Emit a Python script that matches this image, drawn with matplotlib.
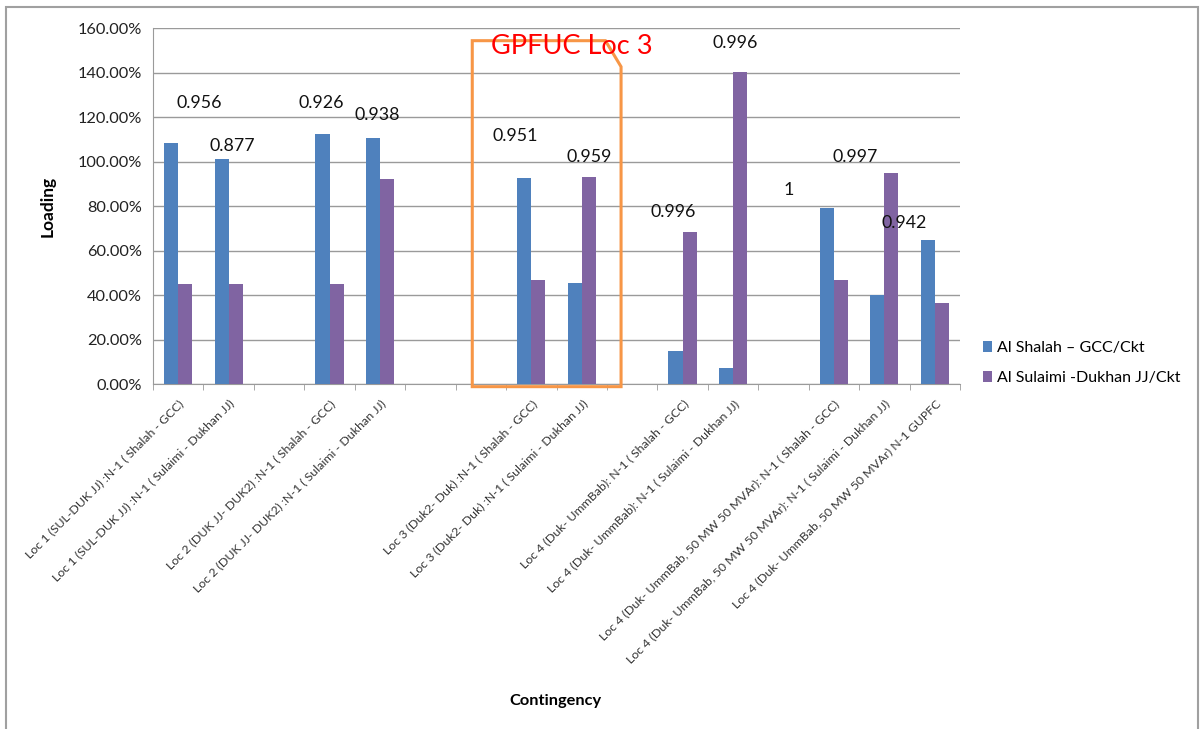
import numpy as np
import matplotlib
matplotlib.use("Agg")
import matplotlib.pyplot as plt
from matplotlib.patches import Rectangle, Polygon
from matplotlib.ticker import FuncFormatter, MultipleLocator

plt.rcParams['font.family'] = ['Lato', 'DejaVu Sans']

# ---------------- data ----------------
categories = [
    "Loc 1 (SUL-DUK JJ) :N-1 ( Shalah - GCC)",
    "Loc 1 (SUL-DUK JJ) :N-1 ( Sulaimi - Dukhan JJ)",
    "",
    "Loc 2 (DUK JJ- DUK2) :N-1 ( Shalah - GCC)",
    "Loc 2 (DUK JJ- DUK2) :N-1 ( Sulaimi - Dukhan JJ)",
    "",
    "",
    "Loc 3 (Duk2- Duk) :N-1 ( Shalah - GCC)",
    "Loc 3 (Duk2- Duk) :N-1 ( Sulaimi - Dukhan JJ)",
    "",
    "Loc 4 (Duk- UmmBab): N-1 ( Shalah - GCC)",
    "Loc 4 (Duk- UmmBab): N-1 ( Sulaimi - Dukhan JJ)",
    "",
    "Loc 4 (Duk- UmmBab, 50 MW 50 MVAr): N-1 ( Shalah - GCC)",
    "Loc 4 (Duk- UmmBab, 50 MW 50 MVAr): N-1 ( Sulaimi - Dukhan JJ)",
    "Loc 4 (Duk- UmmBab, 50 MW 50 MVAr) N-1 GUPFC",
]
shalah = [108.4, 101.1, np.nan, 112.4, 110.7, np.nan, np.nan, 92.4, 45.5,
          np.nan, 15.0, 7.0, np.nan, 79.0, 40.0, 64.7]
sulaimi = [44.8, 44.8, np.nan, 44.8, 92.0, np.nan, np.nan, 46.6, 92.9,
           np.nan, 68.2, 140.4, np.nan, 46.7, 95.0, 36.3]
series_names = ["Al Shalah \u2013 GCC/Ckt", "Al Sulaimi -Dukhan JJ/Ckt"]

# voltage annotations (value text) and where they are drawn (x in category units, y in %)
annot_text = ["0.956", "0.877", "0.926", "0.938", "0.951", "0.959",
              "0.996", "0.996", "1", "0.997", "0.942"]
annot_x = [0.42, 1.07, 2.84, 3.95, 6.69, 8.14, 9.82, 11.05, 12.1, 13.43, 14.39]
annot_y = [126.3, 107.0, 126.3, 120.9, 111.5, 102.0, 77.4, 153.1, 87.2, 102.0, 72.5]

highlight_label = "GPFUC Loc 3"

# ---------------- figure ----------------
W, H = 1203, 729
fig = plt.figure(figsize=(W / 100, H / 100), dpi=100)
fig.patch.set_facecolor("white")

# outer chart border
fig.patches.append(Rectangle((6 / W, -0.02), (1198 - 6) / W, 1 - 7 / H + 0.02,
                             transform=fig.transFigure, fill=False,
                             edgecolor="#a0a0a0", linewidth=1.5))

ax = fig.add_axes([153 / W, 1 - 384 / H, (960 - 153) / W, (384 - 28) / H])

x = np.arange(len(categories))
bw = 0.28
blue = "#4F81BD"
purple = "#8064A2"
ax.bar(x - bw / 2, shalah, width=bw, color=blue, label=series_names[0], zorder=3)
ax.bar(x + bw / 2, sulaimi, width=bw, color=purple, label=series_names[1], zorder=3)

ax.set_xlim(-0.5, len(categories) - 0.5)
ax.set_ylim(0, 160)
ax.yaxis.set_major_locator(MultipleLocator(20))
ax.yaxis.set_major_formatter(FuncFormatter(lambda v, p: f"{v:.2f}%"))
ax.grid(axis="y", color="#9a9a9a", linewidth=1.0, zorder=0)
ax.set_axisbelow(True)

for s in ["top", "right"]:
    ax.spines[s].set_visible(False)
ax.spines["left"].set_color("#9a9a9a")
ax.spines["bottom"].set_color("#9a9a9a")

ax.tick_params(axis="y", length=0, labelsize=11.8, pad=8, labelcolor="#222222")
ax.set_xticks(x)
ax.set_xticklabels(categories, rotation=45, ha="right", rotation_mode="anchor",
                   fontsize=8.9, color="#333333")
ax.tick_params(axis="x", which="major", length=0, pad=10)
ax.set_xticks(np.arange(-0.5, len(categories) + 0.5, 1), minor=True)
ax.tick_params(axis="x", which="minor", length=4, color="#9a9a9a")

ax.set_ylabel("Loading", fontsize=12.5, fontweight="bold", labelpad=16)
fig.text(555 / W, 1 - 701 / H, "Contingency", fontsize=11.8, fontweight="bold",
         ha="center", va="center")

for t, xx, yy in zip(annot_text, annot_x, annot_y):
    ax.text(xx, yy, t, fontsize=12.8, ha="center", va="center", color="#111111", zorder=5)

# highlight box with chamfered corner
box = Polygon([(5.83, -1.2), (5.83, 154.3), (8.47, 154.3), (8.78, 142.6), (8.78, -1.2)],
              closed=True, fill=False, edgecolor="#F79646", linewidth=2.2,
              clip_on=False, zorder=4)
ax.add_patch(box)
ax.text(7.81, 151.6, highlight_label, fontsize=19.5, color="#FF0000",
        ha="center", va="center", zorder=5)

fig.legend(loc="upper left", bbox_to_anchor=(983 / W, 1 - 341 / H), frameon=False,
           fontsize=11.5, handlelength=0.55, handleheight=0.7, handletextpad=0.35,
           labelspacing=1.0, borderaxespad=0, borderpad=0)

fig.savefig("out.png", dpi=100)
